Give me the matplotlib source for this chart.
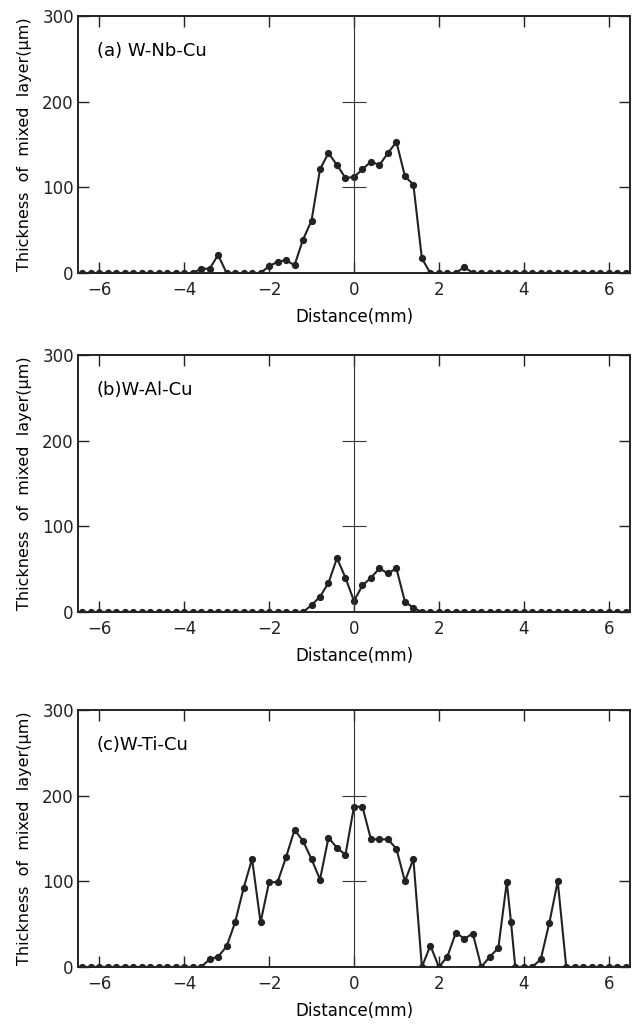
import numpy as np
import matplotlib.pyplot as plt

distance = np.round(np.linspace(-6.4, 6.4, 65), 1)

thick_nb = [0, 0, 0, 0, 0, 0, 0, 0, 0, 0, 0, 0, 0, 0,
            5, 5, 21, 0, 0, 0, 0, 0, 8, 13, 15, 9, 39, 61, 121, 140,
            126, 111, 112, 121, 130, 126, 140, 153, 113, 103, 17,
            0, 0, 0, 0, 7,
            0, 0, 0, 0, 0, 0, 0, 0, 0, 0, 0, 0, 0, 0, 0, 0, 0, 0, 0]

thick_al = [0, 0, 0, 0, 0, 0, 0, 0, 0, 0, 0, 0, 0, 0, 0, 0, 0, 0, 0, 0,
            0, 0, 0, 0, 0, 0, 0,
            8, 18, 34, 63, 40, 13, 31, 40, 51, 45, 51, 12, 5,
            0, 0, 0, 0, 0, 0, 0, 0, 0, 0, 0, 0, 0, 0, 0, 0, 0, 0, 0, 0,
            0, 0, 0, 0, 0]

# W-Ti-Cu has one extra reading at 3.7 mm
distance_ti = np.insert(distance, 51, 3.7)
thick_ti = [0, 0, 0, 0, 0, 0, 0, 0, 0, 0, 0, 0, 0, 0, 0,
            9, 12, 24, 52, 92, 126, 52, 99, 99, 128, 160, 147, 126, 102,
            151, 139, 131, 187, 187, 149, 149, 149, 138, 100, 126,
            0, 25, 0, 12, 40, 33, 39, 0, 12, 22, 99, 52,
            0, 0, 0, 9, 51, 100, 0,
            0, 0, 0, 0, 0, 0, 0]

labels = ["(a) W-Nb-Cu", "(b)W-Al-Cu", "(c)W-Ti-Cu"]
xticks = [-6, -4, -2, 0, 2, 4, 6]
yticks = [0, 100, 200, 300]
cross = [100, 200]

plt.rcParams['font.family'] = ['DejaVu Sans']


def panel(fig, rect, x, y, label):
    ax = fig.add_axes(rect)
    ax.plot(x, y, color="#222222", lw=1.5, marker="o", ms=4.2,
            mfc="#222222", mec="#222222")
    ax.axvline(0, color="#333333", lw=0.8)
    ax.hlines(cross, -0.28, 0.28, color="#333333", lw=0.8)
    ax.set_xlim(-6.5, 6.5)
    ax.set_ylim(0, 300)
    ax.set_xticks(xticks)
    ax.set_yticks(yticks)
    ax.tick_params(direction="in", top=True, right=True, length=8,
                   width=1, labelsize=12, colors="#222222")
    ax.tick_params(axis="x", pad=6)
    ax.tick_params(axis="y", pad=3)
    for s in ax.spines.values():
        s.set_linewidth(1.4)
        s.set_color("#222222")
    ax.set_xlabel("Distance(mm)", fontsize=12, labelpad=6)
    ax.set_ylabel("Thickness  of  mixed  layer(μm)", fontsize=11.5,
                  labelpad=7)
    ax.text(0.034, 0.865, label, transform=ax.transAxes, fontsize=13,
            va="center", ha="left")
    return ax


def main():
    fig = plt.figure(figsize=(6.41, 10.24), dpi=100)
    left, width, height = 0.1217, 0.861, 0.251
    panel(fig, [left, 0.7334, width, height], distance, thick_nb, labels[0])
    panel(fig, [left, 0.4023, width, height], distance, thick_al, labels[1])
    panel(fig, [left, 0.0557, width, height], distance_ti, thick_ti, labels[2])
    fig.savefig("out.png", dpi=100)


if __name__ == '__main__':
    main()
